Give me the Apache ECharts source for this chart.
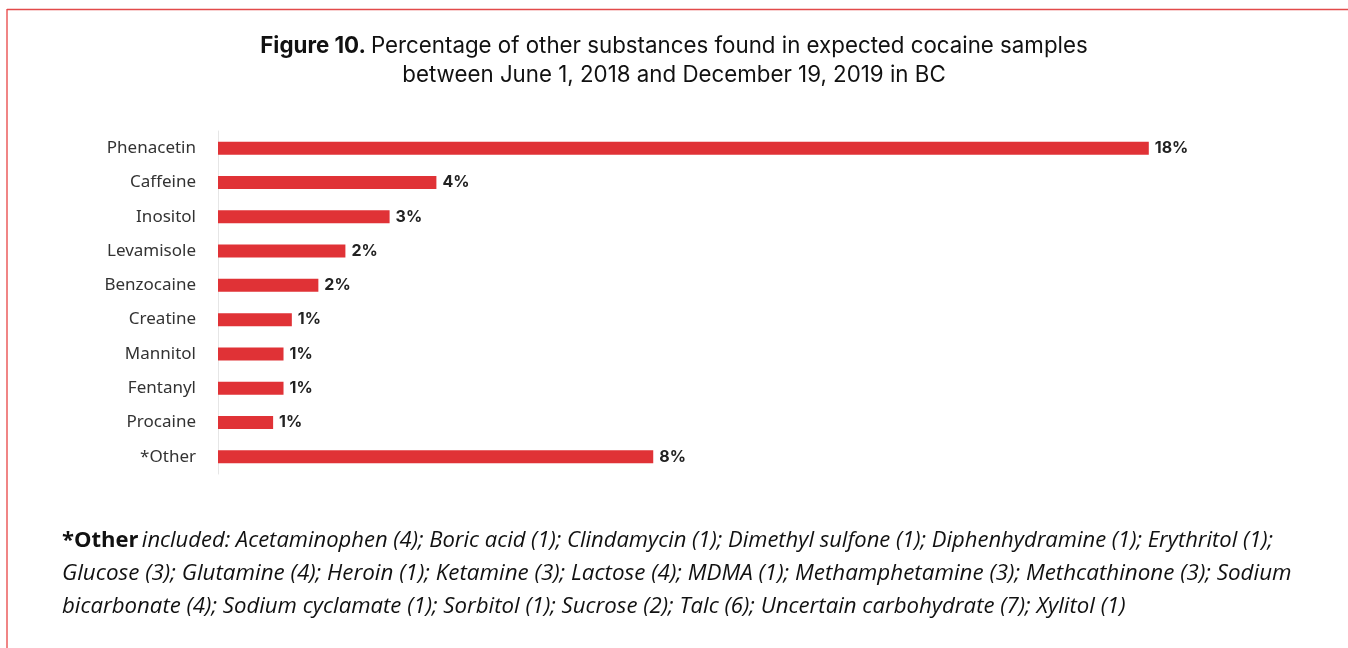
<!DOCTYPE html>
<html>
<head>
<meta charset="utf-8">
<script src="https://cdn.jsdelivr.net/npm/echarts@6/dist/echarts.min.js"></script>
<style>
  html, body { margin: 0; padding: 0; background: #fff; }
  #chart { width: 1348px; height: 648px; }
</style>
</head>
<body>
<div id="chart"></div>
<script>
// Substances found alongside cocaine (percent of samples)
const substances = ['Phenacetin', 'Caffeine', 'Inositol', 'Levamisole', 'Benzocaine',
                    'Creatine', 'Mannitol', 'Fentanyl', 'Procaine', '*Other'];
const percentages = [17.9, 4.2, 3.3, 2.45, 1.93, 1.42, 1.26, 1.26, 1.06, 8.37];

const titleLine1 = 'Percentage of other substances found in expected cocaine samples';
const titleLine2 = 'between June 1, 2018 and December 19, 2019 in BC';
const noteLines = [
  'included: Acetaminophen (4); Boric acid (1); Clindamycin (1); Dimethyl sulfone (1); Diphenhydramine (1); Erythritol (1);',
  'Glucose (3); Glutamine (4); Heroin (1); Ketamine (3); Lactose (4); MDMA (1); Methamphetamine (3); Methcathinone (3); Sodium',
  'bicarbonate (4); Sodium cyclamate (1); Sorbitol (1); Sucrose (2); Talc (6); Uncertain carbohydrate (7); Xylitol (1)'
];

const chart = echarts.init(document.getElementById('chart'));
const noteFont = '"Open Sans", "Noto Sans", sans-serif';
const titleFont = 'Inter, "Noto Sans", sans-serif';

chart.setOption({
  backgroundColor: '#ffffff',
  animation: false,
  title: {
    text: '{b|Figure 10.} {n|' + titleLine1 + '}\n{n|' + titleLine2 + '}',
    left: 'center',
    top: 27,
    textStyle: {
      rich: {
        b: { fontFamily: titleFont, fontWeight: 'bold', fontSize: 22.3, color: '#111', lineHeight: 29 },
        n: { fontFamily: titleFont, fontWeight: 'normal', fontSize: 22.3, color: '#111', lineHeight: 29 }
      }
    }
  },
  grid: { left: 218, top: 131, width: 1040, height: 343, containLabel: false },
  xAxis: {
    type: 'value', min: 0, max: 20,
    show: false
  },
  yAxis: {
    type: 'category',
    inverse: true,
    data: substances,
    axisLine: { show: true, lineStyle: { color: '#e6e6e6', width: 1 } },
    axisTick: { show: false },
    axisLabel: {
      margin: 22,
      fontFamily: '"Noto Sans", sans-serif',
      fontSize: 17,
      color: '#333'
    }
  },
  series: [{
    type: 'bar',
    data: percentages,
    barWidth: 13,
    itemStyle: { color: '#e03236' },
    label: {
      show: true,
      position: 'right',
      distance: 6,
      formatter: p => Math.round(p.value) + '%',
      fontFamily: titleFont,
      fontWeight: 'bold',
      fontSize: 16,
      color: '#222'
    }
  }],
  graphic: [
    { type: 'line', shape: { x1: 7, y1: 9, x2: 7, y2: 648 }, style: { stroke: '#f08585', lineWidth: 2 } },
    { type: 'line', shape: { x1: 7, y1: 9.5, x2: 1348, y2: 9.5 }, style: { stroke: '#e24a4a', lineWidth: 1.5 } },
    {
      type: 'text', left: 62, top: 530,
      style: {
        text: '{b|*Other} {i|' + noteLines[0] + '}',
        rich: {
          b: { fontFamily: noteFont, fontWeight: 'bold', fontSize: 22, fill: '#111' },
          i: { fontFamily: noteFont, fontStyle: 'italic', fontSize: 22, fill: '#111' }
        }
      }
    },
    {
      type: 'text', left: 62, top: 563,
      style: { text: noteLines[1], font: 'italic 22.4px ' + noteFont, fill: '#111' }
    },
    {
      type: 'text', left: 62, top: 596,
      style: { text: noteLines[2], font: 'italic 22.2px ' + noteFont, fill: '#111' }
    }
  ]
});
</script>
</body>
</html>
